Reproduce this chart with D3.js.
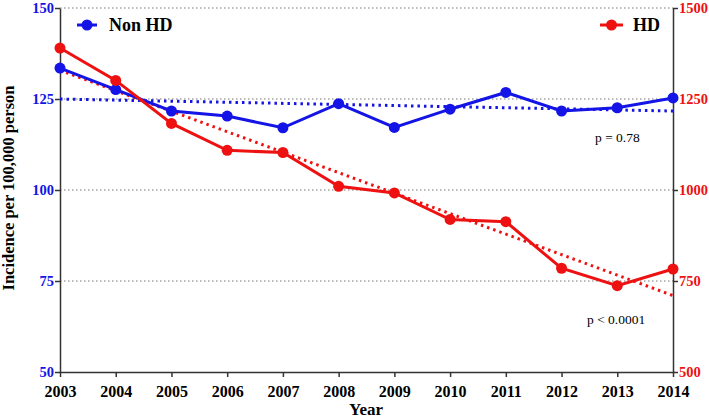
<!DOCTYPE html>
<html><head><meta charset="utf-8">
<script src="https://cdn.jsdelivr.net/npm/d3@7"></script>
<style>body{margin:0;background:#fff}svg{display:block}</style>
</head><body><svg id="c" width="709" height="418"></svg>
<script>
const years = [2003,2004,2005,2006,2007,2008,2009,2010,2011,2012,2013,2014];
const nonHD = [133.5,127.6,121.7,120.3,117.1,123.7,117.2,122.2,126.8,121.7,122.6,125.3];
const hd = [1390,1301,1183,1109,1103,1010,992,919,913,785,737,783];
const nonHDTrendYears = [2003,2014];
const nonHDTrend = [125.0,121.7];
const hdTrendYears = [2003,2014];
const hdTrend = [1329,710];
const leftTicks = [50,75,100,125,150];
const rightTicks = [500,750,1000,1250,1500];
const gridTicks = [75,100,125,150];

const svg = d3.select("#c");
const L=60,R=673,T=8,B=372;
const x = d3.scaleLinear().domain([2003,2014]).range([L,R]);
const yL = d3.scaleLinear().domain([50,150]).range([B,T]);
const yR = d3.scaleLinear().domain([500,1500]).range([B,T]);
const BLUE="#1414e6", RED="#ee1111";
const serif="Liberation Serif, Times New Roman, serif";

// grid
svg.append("g").selectAll("line").data(gridTicks).join("line")
  .attr("x1",L).attr("x2",R).attr("y1",d=>yL(d)).attr("y2",d=>yL(d))
  .attr("stroke","#777").attr("stroke-width",1.2).attr("stroke-dasharray","1.5,2.5");

// axes
const ax = svg.append("g").attr("transform",`translate(0,${B})`)
  .call(d3.axisBottom(x).tickValues(years).tickFormat(d3.format("d")).tickSize(5).tickSizeOuter(0));
ax.select(".domain").attr("stroke","#333").attr("stroke-width",1.5);
ax.selectAll(".tick line").attr("stroke","#333").attr("stroke-width",1.5);
ax.selectAll("text").attr("font-family",serif).attr("font-weight","bold").attr("font-size",16).attr("fill","#000")
  .attr("y",25).attr("dy",0);

const al = svg.append("g").attr("transform",`translate(${L},0)`)
  .call(d3.axisLeft(yL).tickValues(leftTicks).tickSize(5).tickSizeOuter(0).tickPadding(1));
al.select(".domain").attr("stroke","#333").attr("stroke-width",1.5);
al.selectAll(".tick line").attr("stroke","#333").attr("stroke-width",1.5);
al.selectAll("text").attr("font-family",serif).attr("font-weight","bold").attr("font-size",14.5).attr("fill",BLUE);

const ar = svg.append("g").attr("transform",`translate(${R},0)`)
  .call(d3.axisRight(yR).tickValues(rightTicks).tickFormat(d3.format("d")).tickSize(5).tickSizeOuter(0).tickPadding(1));
ar.select(".domain").attr("stroke","#333").attr("stroke-width",1.5);
ar.selectAll(".tick line").attr("stroke","#333").attr("stroke-width",1.5);
ar.selectAll("text").attr("font-family",serif).attr("font-weight","bold").attr("font-size",14.5).attr("fill",RED);

// trend lines
svg.append("path").datum(nonHDTrendYears.map((d,i)=>[d,nonHDTrend[i]]))
  .attr("d",d3.line().x(d=>x(d[0])).y(d=>yL(d[1])))
  .attr("fill","none").attr("stroke",BLUE).attr("stroke-width",3).attr("stroke-dasharray","2.5,4");
svg.append("path").datum(hdTrendYears.map((d,i)=>[d,hdTrend[i]]))
  .attr("d",d3.line().x(d=>x(d[0])).y(d=>yR(d[1])))
  .attr("fill","none").attr("stroke",RED).attr("stroke-width",3).attr("stroke-dasharray","2.5,4");

// series
function series(vals,scale,color){
  const pts = years.map((d,i)=>[d,vals[i]]);
  svg.append("path").datum(pts).attr("d",d3.line().x(d=>x(d[0])).y(d=>scale(d[1])))
    .attr("fill","none").attr("stroke",color).attr("stroke-width",3);
  svg.append("g").selectAll("circle").data(pts).join("circle")
    .attr("cx",d=>x(d[0])).attr("cy",d=>scale(d[1])).attr("r",5.5).attr("fill",color);
}
series(nonHD,yL,BLUE);
series(hd,yR,RED);

// legends
function legend(x0,x1,y,color,label,tx){
  svg.append("line").attr("x1",x0).attr("x2",x1).attr("y1",y).attr("y2",y).attr("stroke",color).attr("stroke-width",3);
  svg.append("circle").attr("cx",(x0+x1)/2).attr("cy",y).attr("r",5.5).attr("fill",color);
  svg.append("text").attr("x",tx).attr("y",y).attr("dy","0.35em").attr("font-family",serif)
    .attr("font-weight","bold").attr("font-size",18).attr("fill","#000").text(label);
}
legend(77,97,25,BLUE,"Non HD",109);
legend(600,623,25,RED,"HD",633);

// p-values
svg.append("text").attr("x",595).attr("y",142).attr("font-family",serif).attr("font-size",13.5).text("p = 0.78");
svg.append("text").attr("x",587).attr("y",324).attr("font-family",serif).attr("font-size",13.5).text("p < 0.0001");

// axis titles
svg.append("text").attr("x",366).attr("y",415).attr("text-anchor","middle").attr("font-family",serif)
  .attr("font-weight","bold").attr("font-size",17).text("Year");
svg.append("text").attr("transform","translate(14,188) rotate(-90)").attr("text-anchor","middle").attr("font-family",serif)
  .attr("font-weight","bold").attr("font-size",16.5).text("Incidence per 100,000 person");
</script></body></html>
